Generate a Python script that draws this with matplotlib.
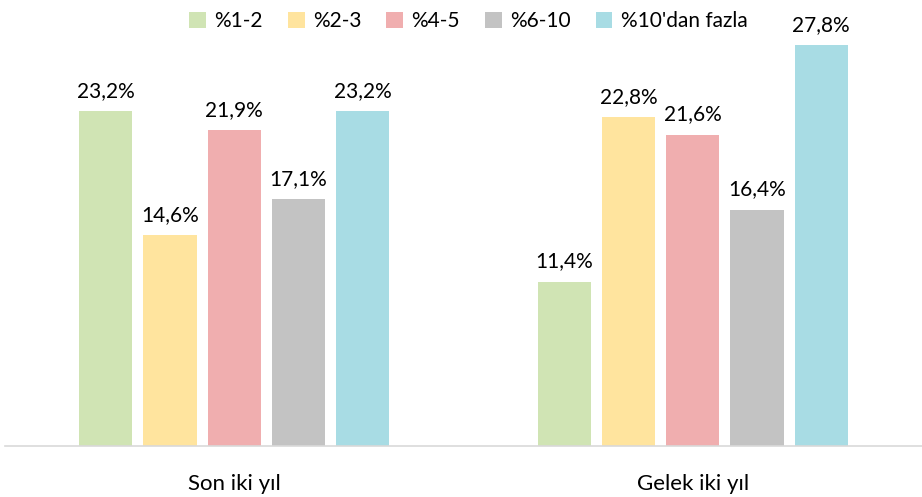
import numpy as np
import matplotlib.pyplot as plt

plt.rcParams['font.family'] = ['Lato', 'DejaVu Sans']

kategoriler = ['Son iki yıl', 'Gelek iki yıl']
seriler = ['%1-2', '%2-3', '%4-5', '%6-10', "%10'dan fazla"]
degerler = [
    [23.2, 11.4],
    [14.6, 22.8],
    [21.9, 21.6],
    [17.1, 16.4],
    [23.2, 27.8],
]
renkler = ['#d0e4b4', '#ffe49e', '#f0aeaf', '#c3c3c3', '#a8dce4']

fig = plt.figure(figsize=(9.22, 4.97), dpi=100)
ax = fig.add_axes([5 / 922, 51 / 497, 917 / 922, 432.6 / 497])

x = np.arange(len(kategoriler))
genislik = 0.116
adim = 0.14
for i, (ad, vals, renk) in enumerate(zip(seriler, degerler, renkler)):
    konum = x + (i - 2) * adim
    bars = ax.bar(konum, vals, genislik, color=renk, label=ad)
    for b, v in zip(bars, vals):
        ax.text(b.get_x() + b.get_width() / 2, v + 0.7, f'{v:.1f}%'.replace('.', ','),
                ha='center', va='bottom', fontsize=15)

ax.set_xlim(-0.5, 1.5)
ax.set_ylim(0, 30)
ax.set_yticks([])
ax.set_xticks(x)
ax.set_xticklabels(kategoriler, fontsize=16)
ax.tick_params(axis='x', length=0, pad=20)
for s in ['top', 'right', 'left']:
    ax.spines[s].set_visible(False)
ax.spines['bottom'].set_color('#d9d9d9')
ax.spines['bottom'].set_linewidth(1.2)

fig.legend(loc='upper center', bbox_to_anchor=(0.508, 1.015), ncol=5, frameon=False,
           fontsize=15, handlelength=0.8, handleheight=0.8, handletextpad=0.4,
           columnspacing=1.2)

fig.savefig('out.png', dpi=100)
